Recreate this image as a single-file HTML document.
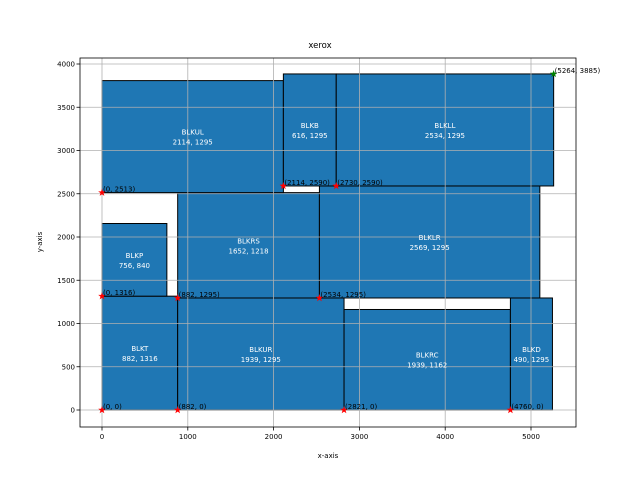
<!DOCTYPE html>
<html><head><meta charset="utf-8"><style>
body{margin:0;background:#fff}
svg{display:block;font-family:"DejaVu Sans","Liberation Sans",sans-serif}
</style></head><body>
<svg id="c" width="640" height="480"></svg>
<script>
const names=["BLKT","BLKUR","BLKRC","BLKD","BLKP","BLKRS","BLKLR","BLKUL","BLKB","BLKLL"];
const xs=[0,882,2821,4760,0,882,2534,0,2114,2730];
const ys=[0,0,0,0,1316,1295,1295,2513,2590,2590];
const ws=[882,1939,1939,490,756,1652,2569,2114,616,2534];
const hs=[1316,1295,1162,1295,840,1218,1295,1295,1295,1295];
const ptX=[0,882,2821,4760,0,882,2534,0,2114,2730];
const ptY=[0,0,0,0,1316,1295,1295,2513,2590,2590];
const endX=5264, endY=3885;
const xTicks=[0,1000,2000,3000,4000,5000];
const yTicks=[0,500,1000,1500,2000,2500,3000,3500,4000];
const L=80,R=576,T=58,B=427;
const X=v=>102+v*0.0858;
const Y=v=>410-v*0.0865;
const svg=document.getElementById('c');
const NS="http://www.w3.org/2000/svg";
function mk(t,a,p){const e=document.createElementNS(NS,t);for(const k in a)e.setAttribute(k,a[k]);(p||svg).appendChild(e);return e;}
let t=mk('text',{x:320,y:48,'font-size':8.5,'text-anchor':'middle'});t.textContent='xerox';


names.forEach((n,i)=>{
 const r=mk('rect',{x:X(xs[i]),y:Y(ys[i]+hs[i]),width:ws[i]*0.0858,height:hs[i]*0.0865,fill:'#1f77b4',stroke:'#000','stroke-width':1});
 
 
});
xTicks.forEach(v=>{const l=mk('line',{x1:X(v),x2:X(v),y1:T,y2:B,stroke:'#b0b0b0','stroke-width':0.8});
 
 mk('line',{x1:X(v),x2:X(v),y1:B,y2:B+3.5,stroke:'#000','stroke-width':0.8});
 const tt=mk('text',{x:X(v),y:B+12,'font-size':7,'text-anchor':'middle'});tt.textContent=v;
 });
yTicks.forEach(v=>{const l=mk('line',{x1:L,x2:R,y1:Y(v),y2:Y(v),stroke:'#b0b0b0','stroke-width':0.8});
 
 mk('line',{x1:L-3.5,x2:L,y1:Y(v),y2:Y(v),stroke:'#000','stroke-width':0.8});
 const tt=mk('text',{x:L-5,y:Y(v)+2.5,'font-size':7,'text-anchor':'end'});tt.textContent=v;
 });
names.forEach((n,i)=>{
 const cx=X(xs[i]+ws[i]/2), cy=Y(ys[i]+hs[i]/2);
 const a=mk('text',{x:cx,y:cy-2,'font-size':7,'text-anchor':'middle',fill:'#fff'});a.textContent=n;
 
 const b=mk('text',{x:cx,y:cy+8,'font-size':7,'text-anchor':'middle',fill:'#fff'});b.textContent=ws[i]+', '+hs[i];
 
});
function star(x,y,c){let p='';for(let k=0;k<10;k++){const r=k%2?1.6:4,a=-Math.PI/2+k*Math.PI/5;p+=(x+r*Math.cos(a)).toFixed(2)+','+(y+r*Math.sin(a)).toFixed(2)+' ';}
 return mk('polygon',{points:p,fill:c});}
ptX.forEach((v,i)=>{const s=star(X(v),Y(ptY[i]),'red');
 
 const l=mk('text',{x:X(v)+1,y:Y(ptY[i])-1,'font-size':7});l.textContent='('+v+', '+ptY[i]+')';
 });
const g=star(X(endX),Y(endY),'green');

const gl=mk('text',{x:X(endX)+1,y:Y(endY)-1,'font-size':7});gl.textContent='('+endX+', '+endY+')';

const fr=mk('rect',{x:L,y:T,width:R-L,height:B-T,fill:'none',stroke:'#000','stroke-width':0.8});

const xl=mk('text',{x:328,y:458,'font-size':7,'text-anchor':'middle'});xl.textContent='x-axis';

const yl=mk('text',{x:0,y:0,'font-size':7,'text-anchor':'middle',transform:'translate(42,242) rotate(-90)'});yl.textContent='y-axis';

</script>
</body></html>
